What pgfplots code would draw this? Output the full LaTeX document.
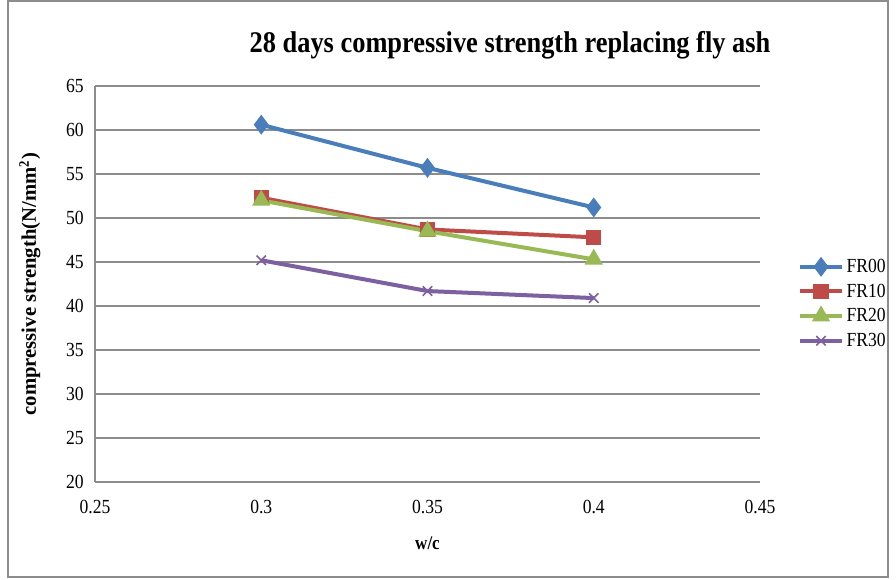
\documentclass[border=0pt]{standalone}
\usepackage{pgfplots}
\pgfplotsset{compat=1.18}
\usepackage{fontspec}
\setmainfont[FakeStretch=0.88]{Liberation Serif}
\newfontfamily\ylabfont{Liberation Serif}
\definecolor{cblue}{HTML}{4A7EBB}
\definecolor{cred}{HTML}{BE4B48}
\definecolor{cgreen}{HTML}{98B954}
\definecolor{cpurple}{HTML}{7D60A0}
\definecolor{cgrid}{HTML}{8C8C8C}
\begin{document}
\begin{tikzpicture}[x=0.75pt,y=0.75pt]
\path[use as bounding box] (0,0) rectangle (896,579);
\draw[cgrid,line width=0.8pt] (8,2) rectangle (888,578);
\begin{axis}[
  at={(71.25pt,72.75pt)}, anchor=south west,
  scale only axis, width=498.75pt, height=297pt,
  xmin=0.25, xmax=0.45, ymin=20, ymax=65,
  xtick={0.25,0.3,0.35,0.4,0.45},
  xticklabels={0.25,0.3,0.35,0.4,0.45},
  ytick={20,25,...,65},
  /pgf/number format/assume math mode=true,
  tick style={draw=none},
  ymajorgrids, grid style={cgrid, line width=0.8pt},
  axis line style={cgrid, line width=0.8pt},
  axis x line*=bottom, axis y line*=left,
  ticklabel style={font=\fontsize{15}{17}\selectfont},
  xticklabel style={yshift=-10pt},
  yticklabel style={xshift=-5pt},
  xlabel={\textbf{w/c}},
  xlabel style={font=\fontsize{14.5}{16}\selectfont, at={(rel axis cs:0.5,-0.154)}, anchor=center},
  ylabel={\ylabfont\bfseries compressive strength(N/mm$^{\mathbf{2}}$)},
  ylabel style={font=\fontsize{15.5}{18}\selectfont, at={(rel axis cs:-0.098,0.5)}, anchor=center, rotate=0},
  legend style={at={(1.055,0.45)}, anchor=west, draw=none, fill=none,
    font=\fontsize{15}{17}\selectfont, row sep=3pt, inner sep=1pt},
  legend cell align=left,
  legend image code/.code={\draw[mark repeat=2,mark phase=2] plot coordinates {(0cm,0cm) (0.55cm,0cm) (1.1cm,0cm)};},
  every axis plot/.append style={line width=3pt},
  clip=false,
]
\addplot[cblue, mark=diamond*, mark size=5pt] coordinates {(0.3,60.6) (0.35,55.7) (0.4,51.2)};
\addlegendentry{FR00}
\addplot[cred, mark=square*, mark size=4.3pt] coordinates {(0.3,52.3) (0.35,48.7) (0.4,47.8)};
\addlegendentry{FR10}
\addplot[cgreen, mark=triangle*, mark size=5pt] coordinates {(0.3,52.0) (0.35,48.5) (0.4,45.3)};
\addlegendentry{FR20}
\addplot[cpurple, mark=x, mark size=5pt, mark options={line width=1.2pt}] coordinates {(0.3,45.2) (0.35,41.7) (0.4,40.9)};
\addlegendentry{FR30}
\end{axis}
\node[font=\fontsize{22.5}{26}\selectfont\bfseries] at (510,534) {28 days compressive strength replacing fly ash};
\end{tikzpicture}
\end{document}
